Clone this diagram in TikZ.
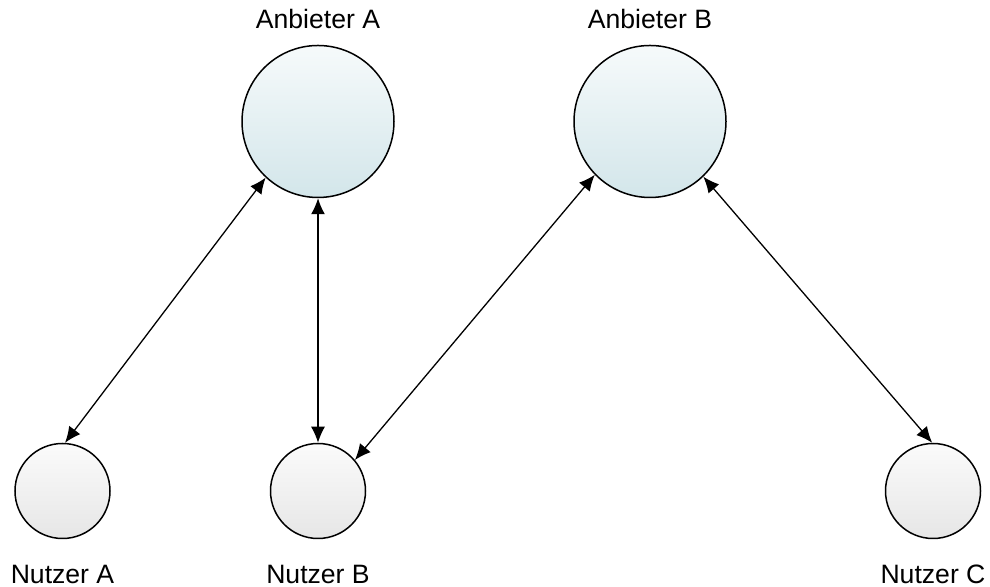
\documentclass[tikz,border=0pt]{standalone}
\usepackage{fontspec}
\setmainfont{Liberation Sans}
\usepackage{tikz}
\usetikzlibrary{arrows,arrows.meta,positioning,calc}
\usepackage{xcolor}

\definecolor{anbtop}{HTML}{F6FAFB}
\definecolor{anbbot}{HTML}{D3E6EA}
\definecolor{nutztop}{HTML}{FBFBFB}
\definecolor{nutzbot}{HTML}{E6E6E6}

\begin{document}
\begin{tikzpicture}[x=0.5pt,y=0.5pt,
    anbieter/.style={draw,circle,line width=0.75pt,minimum size=76pt,inner sep=0pt,
      top color=anbtop,bottom color=anbbot},
    nutzer/.style={draw,circle,line width=0.75pt,minimum size=47.5pt,inner sep=0pt,
      top color=nutztop,bottom color=nutzbot},
    lbl/.style={inner sep=0pt,text height=9.5pt,text depth=0pt,font=\fontsize{13.3}{16}\selectfont},
    link/.style={{Latex[length=8pt,width=7pt]}-{Latex[length=8pt,width=7pt]},line width=0.65pt}]
  \useasboundingbox (0,0) rectangle (990,587);
  % Anbieter
  \node[anbieter] (aa) at (318,465.5) {};
  \node[anbieter] (ab) at (650,465.5) {};
  \node[lbl,above=7.75pt of aa] (aal) {Anbieter A};
  \node[lbl,above=7.75pt of ab] (abl) {Anbieter B};
  % Nutzer
  \node[nutzer] (na) at (62.5,96) {};
  \node[nutzer] (nb) at (318,96) {};
  \node[nutzer] (nc) at (933,96) {};
  \node[lbl,below=12.5pt of na] (nal) {Nutzer A};
  \node[lbl,below=12.5pt of nb] (nbl) {Nutzer B};
  \node[lbl,below=12.5pt of nc] (ncl) {Nutzer C};
  % Verbindungen
  \draw[link] (aa.227) -- (na.87);
  \draw[link] (aa.south) -- (nb.north);
  \draw[link] (ab.224) -- (nb.40);
  \draw[link] (ab.314) -- (nc.91);
\end{tikzpicture}
\end{document}
